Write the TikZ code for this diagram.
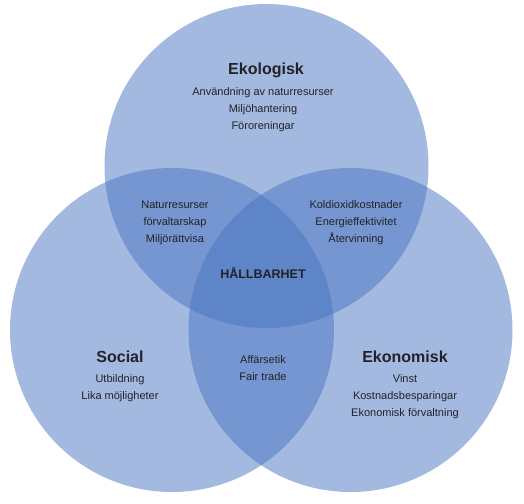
\documentclass[tikz,border=0pt]{standalone}
\usepackage{fontspec}
\setmainfont{Liberation Sans}
\definecolor{vennblue}{RGB}{72,116,192}
\definecolor{textgray}{RGB}{34,34,40}
\tikzset{
  area/.style={fill=vennblue, fill opacity=0.5},
  title/.style={font=\bfseries\fontsize{16}{18}\selectfont, text=textgray},
  items/.style={font=\fontsize{11}{17}\selectfont, text=textgray, align=center, inner sep=0pt}
}
\begin{document}
\begin{tikzpicture}[x=1pt, y=-1pt]
\useasboundingbox (0,0) rectangle (524,503);
% the three circles
\fill[area] (266.5,166) circle[radius=162];
\fill[area] (172,330) circle[radius=162];
\fill[area] (350.5,330) circle[radius=162];
% single areas
\node[title] (eko) at (266,70) {Ekologisk};
\node[items] (ekotext) at (263,110) {Användning av naturresurser\\Miljöhantering\\Föroreningar};
\node[title] (soc) at (120,357) {Social};
\node[items] (soctext) at (120,388.5) {Utbildning\\Lika möjligheter};
\node[title] (ekon) at (405,357) {Ekonomisk};
\node[items] (ekontext) at (405,397) {Vinst\\Kostnadsbesparingar\\Ekonomisk förvaltning};
% overlaps
\node[items] (ekosoc) at (175,223) {Naturresurser\\förvaltarskap\\Miljörättvisa};
\node[items] (ekoekon) at (356,223) {Koldioxidkostnader\\Energieffektivitet\\Återvinning};
\node[items] (socekon) at (263,368.5) {Affärsetik\\Fair trade};
\node[font=\bfseries\fontsize{12.5}{14}\selectfont, text=textgray] (hall) at (263,273) {HÅLLBARHET};
\end{tikzpicture}
\end{document}
